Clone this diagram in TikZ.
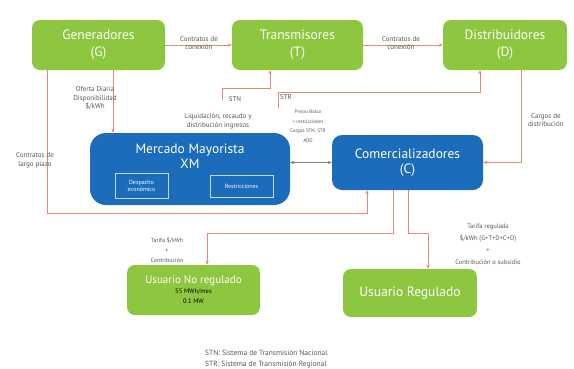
\documentclass[tikz,border=0pt]{standalone}
\usepackage{fontspec}
\setmainfont{PT Sans}
\usetikzlibrary{
    arrows.meta,
    positioning
}
\definecolor{verde}{RGB}{141,198,63}
\definecolor{azul}{RGB}{28,108,188}
\definecolor{linea}{RGB}{230,135,120}
\definecolor{gristexto}{RGB}{85,85,85}

\begin{document}
\begin{tikzpicture}[x=1pt,y=-1pt,
    agente/.style={fill=verde,rounded corners=8pt,text=white,align=center,
        inner sep=0pt,font=\fontsize{13.5}{17}\selectfont},
    mercado/.style={fill=azul,rounded corners=16pt,inner sep=0pt,text=white,
        align=center,font=\fontsize{13.5}{15}\selectfont},
    modulo/.style={draw=white!75!azul,line width=0.5pt,text=white,align=center,
        inner sep=0pt,font=\fontsize{6}{7}\selectfont},
    flujo/.style={draw=linea,line width=0.8pt,-{Stealth[length=4pt,width=3.5pt]}},
    nota/.style={text=gristexto,align=center,inner sep=0pt,
        font=\fontsize{7}{8.5}\selectfont}
]
\useasboundingbox (0,0) rectangle (574,368);

% Agentes
\node[agente,minimum width=133,minimum height=50] (gen) at (98.5,45) {Generadores\\(G)};
\node[agente,minimum width=131,minimum height=50] (tra) at (297.5,45) {Transmisores\\(T)};
\node[agente,minimum width=124,minimum height=50] (dis) at (505,45) {Distribuidores\\(D)};

% Mercado
\node[mercado,minimum width=200,minimum height=72] (xm) at (190,169) {};
\node[text=white,align=center,font=\fontsize{13.5}{15}\selectfont] (xmtit) at (190,156) {Mercado Mayorista\\XM};
\node[modulo,minimum width=53,minimum height=25] (desp) at (141.5,185.5) {Despacho\\económico};
\node[modulo,minimum width=63,minimum height=22] (rest) at (241.5,186) {Restricciones};
\node[mercado,rounded corners=10pt,minimum width=151,minimum height=55] (com) at (407.5,162.5) {Comercializadores\\(C)};

% Usuarios
\node[agente,minimum width=133,minimum height=50,font=\fontsize{6.5}{10}\selectfont] (unr) at (193.5,290)
    {{\fontsize{11}{10}\selectfont Usuario No regulado}\\
     {\color{black}55 MWh/mes}\\
     {\color{black}0.1 MW}};
\node[agente,minimum width=134,minimum height=48] (ure) at (410,293) {Usuario Regulado};

% Contratos
\draw[flujo] (gen) -- (tra);
\draw[flujo] (tra) -- (dis);
\node[nota] (conx1) at (199,43) {Contratos de\\conexión};
\node[nota] (conx2) at (401,43) {Contratos de\\conexión};

% Oferta
\draw[flujo] ([xshift=14.5pt]gen.south) -- ([xshift=14.5pt]gen.south |- xm.north);
\node[nota] (oferta) at (95,98) {Oferta Diaria\\Disponibilidad\\\$/kWh};

% Largo plazo
\coordinate (lp) at (367,213);
\draw[flujo] ([xshift=-51.5pt]gen.south) |- (lp) -- (lp |- com.south);
\node[nota] (largo) at (35,160) {Contratos de\\largo plazo};

% STN y STR
\coordinate (stn) at (222,100);
\coordinate (stnb) at (270,88);
\draw[flujo] (stn) |- (stnb) -- (stnb |- tra.south);
\node[nota] (stnl) at (235,99) {STN};
\node[nota] (liq) at (218,121) {Liquidación, recaudo y\\distribución ingresos};
\coordinate (str) at (278,108);
\coordinate (strb) at (480,92);
\draw[flujo] (str) |- (strb) -- (strb |- dis.south);
\node[nota] (strl) at (286,97) {STR};
\node[nota,font=\fontsize{5}{9.5}\selectfont] (bolsa) at (308,126)
    {Precio Bolsa\\+ restricciones\\Cargos STN, STR\\ADD};

% Bolsa
\draw[gray,line width=0.8pt,{Stealth[length=4pt,width=3.5pt]}-{Stealth[length=4pt,width=3.5pt]}]
    (xm.east |- com.west) -- (com.west);

% Distribucion
\draw[flujo] ([xshift=16pt]dis.south) |- (com.east);
\node[nota,anchor=west] (cargos) at (528,120) {Cargos de\\distribución};

% Tarifas
\coordinate (nr) at (207,233);
\coordinate (rg) at (428,233);
\draw[flujo] ([xshift=-14.5pt]com.south) |- (nr) -- (nr |- unr.north);
\draw[flujo] ([xshift=0.5pt]com.south) |- (rg) -- (rg |- ure.north);
\node[nota,font=\fontsize{6}{10}\selectfont] (tnr) at (167,250) {Tarifa \$/kWh\\+\\Contribución};
\node[nota,font=\fontsize{6.5}{12}\selectfont] (tre) at (488,244)
    {Tarifa regulada\\\$/kWh (G+T+D+C+O)\\+\\Contribución o subsidio};

% Leyenda
\node[nota,align=left,anchor=north west,font=\fontsize{7.5}{11}\selectfont] (ley) at (205,350)
    {STN: Sistema de Transmisión Nacional\\STR: Sistema de Transmisión Regional};

\end{tikzpicture}
\end{document}
